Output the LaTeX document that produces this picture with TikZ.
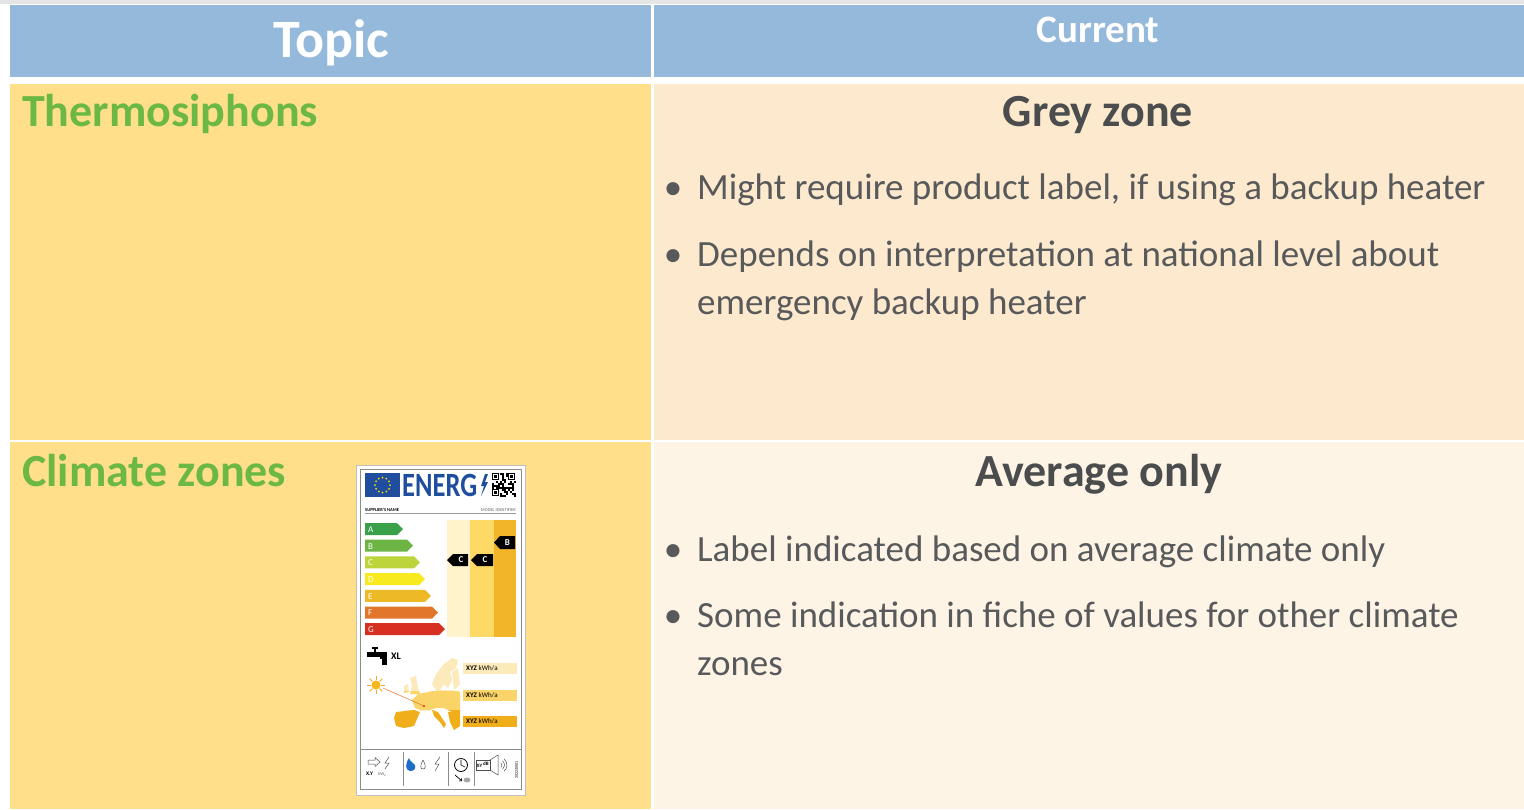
\documentclass[tikz,border=0pt]{standalone}
\usepackage{fontspec}
\setmainfont{Carlito}
\usepackage{tikz}

\definecolor{headblue}{RGB}{149,185,219}
\definecolor{topicyellow}{RGB}{255,223,137}
\definecolor{rowone}{RGB}{253,233,205}
\definecolor{rowtwo}{RGB}{254,244,230}
\definecolor{topicgreen}{RGB}{107,185,68}
\definecolor{textgrey}{RGB}{88,89,91}
\definecolor{eublue}{RGB}{31,78,158}
\definecolor{staryellow}{RGB}{255,221,0}
\definecolor{barA}{RGB}{58,160,74}
\definecolor{barB}{RGB}{108,180,67}
\definecolor{barC}{RGB}{189,212,58}
\definecolor{barD}{RGB}{247,234,30}
\definecolor{barE}{RGB}{238,185,39}
\definecolor{barF}{RGB}{226,118,43}
\definecolor{barG}{RGB}{215,47,34}
\definecolor{colone}{RGB}{255,243,204}
\definecolor{coltwo}{RGB}{255,217,101}
\definecolor{colthree}{RGB}{242,181,42}
\definecolor{mapone}{RGB}{252,234,186}
\definecolor{maptwo}{RGB}{250,212,105}
\definecolor{mapthree}{RGB}{240,174,26}
\definecolor{sunorange}{RGB}{245,166,35}
\definecolor{flameblue}{RGB}{30,110,200}

\begin{document}
\begin{tikzpicture}[x=1pt,y=-1pt,
    every node/.style={inner sep=0pt},
    headtext/.style={text=white, font=\bfseries},
    topictext/.style={anchor=base west, text=topicgreen, font=\fontsize{46}{55}\selectfont\bfseries},
    statetext/.style={anchor=base, text=textgrey!85!black, font=\fontsize{46}{55}\selectfont\bfseries},
    item/.style={anchor=base west, text=textgrey, align=left, font=\fontsize{37}{48}\selectfont},
    itemdot/.style={anchor=base, text=textgrey, font=\fontsize{37}{48}\selectfont},
    tiny/.style={font=\fontsize{4.5}{5}\selectfont},
    badge/.style={text=white, font=\fontsize{9}{10}\selectfont\bfseries},
    thinline/.style={line width=0.5pt, draw=black!70}]
      \useasboundingbox (0,0) rectangle (1524,809);
      \fill[black!10] (0,0) rectangle (1524,4);
      \fill[headblue] (10,5) rectangle (651,77);
      \fill[headblue] (654,5) rectangle (1524,77);
      \fill[topicyellow] (10,84) rectangle (651,440);
      \fill[topicyellow] (10,442) rectangle (651,809);
      \fill[rowone] (654,84) rectangle (1524,440);
      \fill[rowtwo] (654,442) rectangle (1524,809);

      \node[headtext, anchor=base, font=\fontsize{54}{60}\selectfont\bfseries] (topic) at (331,57) {Topic};
      \node[headtext, anchor=base, font=\fontsize{39}{45}\selectfont\bfseries] (current) at (1098,42) {Current};

      \node[topictext] (thermo) at (22,126) {Thermosiphons};
      \node[topictext] (climate) at (22,486) {Climate zones};
      \node[statetext] (grey) at (1098,126) {Grey zone};
      \node[statetext] (average) at (1099,486) {Average only};

      \node[itemdot] (dotone) at (673,199) {\textbullet};
      \node[item] (itemone) at (697,199) {Might require product label, if using a backup heater};
      \node[itemdot] (dottwo) at (673,266) {\textbullet};
      \node[item] (itemtwo) at (697,314) {Depends on interpretation at national level about\\emergency backup heater};
      \node[itemdot] (dotthree) at (673,561) {\textbullet};
      \node[item] (itemthree) at (697,561) {Label indicated based on average climate only};
      \node[itemdot] (dotfour) at (673,627) {\textbullet};
      \node[item] (itemfour) at (697,675) {Some indication in fiche of values for other climate\\zones};

      \fill[white] (356,465) rectangle (525,795);
      \draw[black!25, line width=0.8pt] (356,465) rectangle (525,795);
      \draw[black!45, line width=0.5pt] (360,469) rectangle (521,789);

      \fill[eublue] (365,473) rectangle (400,497);
      \foreach \a in {0,30,...,330}
        \fill[staryellow] (382.5,485) ++(\a:7.5) circle (1);
      \node[anchor=west, text=eublue, font=\fontsize{34}{36}\selectfont\bfseries, xscale=0.78] (energ) at (402,485.5) {ENERG};
      \fill[eublue] (485,474) -- (481,486) -- (484,486) -- (481,496) -- (488,482) -- (485,482) -- (488,474) -- cycle;
      \pgfmathsetseed{7}
      \foreach \i in {0,...,11}
        \foreach \j in {0,...,11} {
          \pgfmathtruncatemacro\q{rnd>0.45}
          \ifnum\q=1 \fill (492+2*\i,473+2*\j) rectangle ++(2,2); \fi
        }
      \foreach \px/\py in {492/473, 508/473, 492/489} {
        \fill[white] (\px,\py) rectangle ++(8,8);
        \fill (\px,\py) rectangle ++(7,7);
        \fill[white] (\px+1.2,\py+1.2) rectangle ++(4.6,4.6);
        \fill (\px+2.3,\py+2.3) rectangle ++(2.4,2.4);
      }
      \node[tiny, anchor=base west, font=\fontsize{4.5}{5}\selectfont\bfseries] (supplier) at (365,511) {SUPPLIER'S NAME};
      \node[tiny, anchor=base east, text=black!60] (model) at (516,511) {MODEL IDENTIFIER};
      \draw[black!40, line width=0.4pt] (365,513.5) -- (516,513.5);

      \fill[colone] (447,520) rectangle (470,637);
      \fill[coltwo] (470,520) rectangle (494,637);
      \fill[colthree] (494,520) rectangle (516,637);
      \foreach \l/\r/\c [count=\k from 0] in {A/403/barA, B/413/barB, C/420/barC, D/425/barD, E/431/barE, F/438/barF, G/445/barG} {
        \fill[\c] (365,523+16.7*\k) -- (\r-6,523+16.7*\k) -- (\r,529+16.7*\k) -- (\r-6,535+16.7*\k) -- (365,535+16.7*\k) -- cycle;
        \node[anchor=west, text=white, font=\fontsize{9}{10}\selectfont] (bar\l) at (368,529.5+16.7*\k) {\l};
      }
      \fill (447,560) -- (453,554) -- (468,554) -- (468,566) -- (453,566) -- cycle;
      \node[badge] (cone) at (461,560) {C};
      \fill (471,560) -- (477,554) -- (493,554) -- (493,566) -- (477,566) -- cycle;
      \node[badge] (ctwo) at (485,560) {C};
      \fill (494,542.5) -- (500,536) -- (515,536) -- (515,549) -- (500,549) -- cycle;
      \node[badge] (bthree) at (507.5,542.5) {B};

      \fill (367,652) rectangle (382,657);
      \fill (372,647) rectangle (378,649);
      \fill (374,649) rectangle (376,652);
      \fill (380,652) rectangle (387,659);
      \fill (382,659) rectangle (387,665);
      \node[anchor=west, font=\fontsize{10}{11}\selectfont\bfseries] (xl) at (391,656) {XL};

      \foreach \a in {0,45,...,315}
        \draw[sunorange, line width=1pt] (376,685) ++(\a:5) -- ++(\a:4);
      \fill[sunorange!80!yellow] (376,685) circle (4.5);

      \def\mappath{(432,684) -- (436,674) -- (444,664) -- (452,658) -- (458,660) -- (456,668) -- (450,672) -- (452,680) -- (448,688) -- (444,684) -- (440,690) -- (436,690) -- cycle
        (452,672) -- (458,668) -- (460,684) -- (454,690) -- cycle
        (410,678) -- (416,676) -- (418,688) -- (420,694) -- (410,694) -- (412,686) -- cycle
        (404,686) -- (408,684) -- (409,692) -- (404,693) -- cycle
        (412,700) -- (418,694) -- (428,692) -- (440,690) -- (452,690) -- (460,692) -- (460,712) -- (452,712) -- (444,708) -- (436,708) -- (430,710) -- (420,710) -- (415,708) -- cycle
        (396,712) -- (414,710) -- (420,712) -- (414,726) -- (404,728) -- (396,726) -- (394,718) -- cycle
        (432,710) -- (438,712) -- (446,724) -- (444,728) -- (440,722) -- (434,716) -- cycle
        (448,712) -- (460,712) -- (460,726) -- (454,730) -- (450,722) -- cycle}
      \begin{scope}
        \clip (390,645) rectangle (462,691);
        \fill[mapone] \mappath;
      \end{scope}
      \begin{scope}
        \clip (390,691) rectangle (462,710);
        \fill[maptwo] \mappath;
      \end{scope}
      \begin{scope}
        \clip (390,710) rectangle (462,735);
        \fill[mapthree] \mappath;
      \end{scope}
      \draw[barF, line width=0.5pt] (383,688) -- (424,706);
      \fill[barG] (424,706) circle (1.2);

      \foreach \y/\c in {663/mapone, 690/maptwo, 716/mapthree} {
        \fill[\c] (463,\y) rectangle (517,\y+11);
        \node[anchor=west, font=\fontsize{7}{8}\selectfont] at (466,\y+5.5) {\textbf{XYZ}\ kWh/a};
      }

      \draw[black!45, line width=0.5pt] (360,749) -- (521,749);
      \foreach \x in {403,448,474}
        \draw[black!45, line width=0.5pt] (\x,752) -- (\x,786);
      \draw[thinline] (368,760) -- (375,760) -- (375,757.5) -- (380,762) -- (375,766.5) -- (375,764) -- (368,764) -- cycle;
      \draw[thinline] (389,757) -- (385,763) -- (389,763) -- (385,769);
      \node[anchor=base west, font=\fontsize{5.5}{6}\selectfont\bfseries] (xy) at (366,775) {X.Y};
      \node[anchor=base west, text=black!60, font=\fontsize{4.5}{5}\selectfont] (kw) at (378,775) {kW\textsubscript{e}};
      \fill[flameblue] (410,771) .. controls (405,770) and (405,764) .. (409,758) .. controls (410,762) and (413,762) .. (415,765) .. controls (416,769) and (414,771) .. (410,771);
      \draw[thinline] (423,760) .. controls (420,765) and (420,769) .. (423,769) .. controls (426,769) and (426,765) .. (423,760);
      \draw[thinline] (440,757) -- (435,764) -- (439,764) -- (435,771);
      \draw[black, line width=0.8pt] (461,765) circle (6.5);
      \draw[black, line width=0.6pt] (461,760) -- (461,765) -- (465,767);
      \fill[black!35] (467,780) ellipse (3.5 and 2.5);
      \draw[->, line width=0.7pt] (455,775) -- (462,781);
      \draw[thinline] (476,760) rectangle (490,770);
      \node[font=\fontsize{5}{5}\selectfont\bfseries] (xydb) at (483,765) {XY\textsuperscript{\,dB}};
      \draw[thinline] (490,760) -- (498,755) -- (498,775) -- (490,770);
      \foreach \r in {3,5.5,8}
        \draw[thinline] (499,765) ++(-50:\r) arc (-50:50:\r);
      \node[rotate=90, font=\fontsize{4}{4}\selectfont] (regno) at (516.5,770) {2022/0001};
    \end{tikzpicture}
\end{document}
